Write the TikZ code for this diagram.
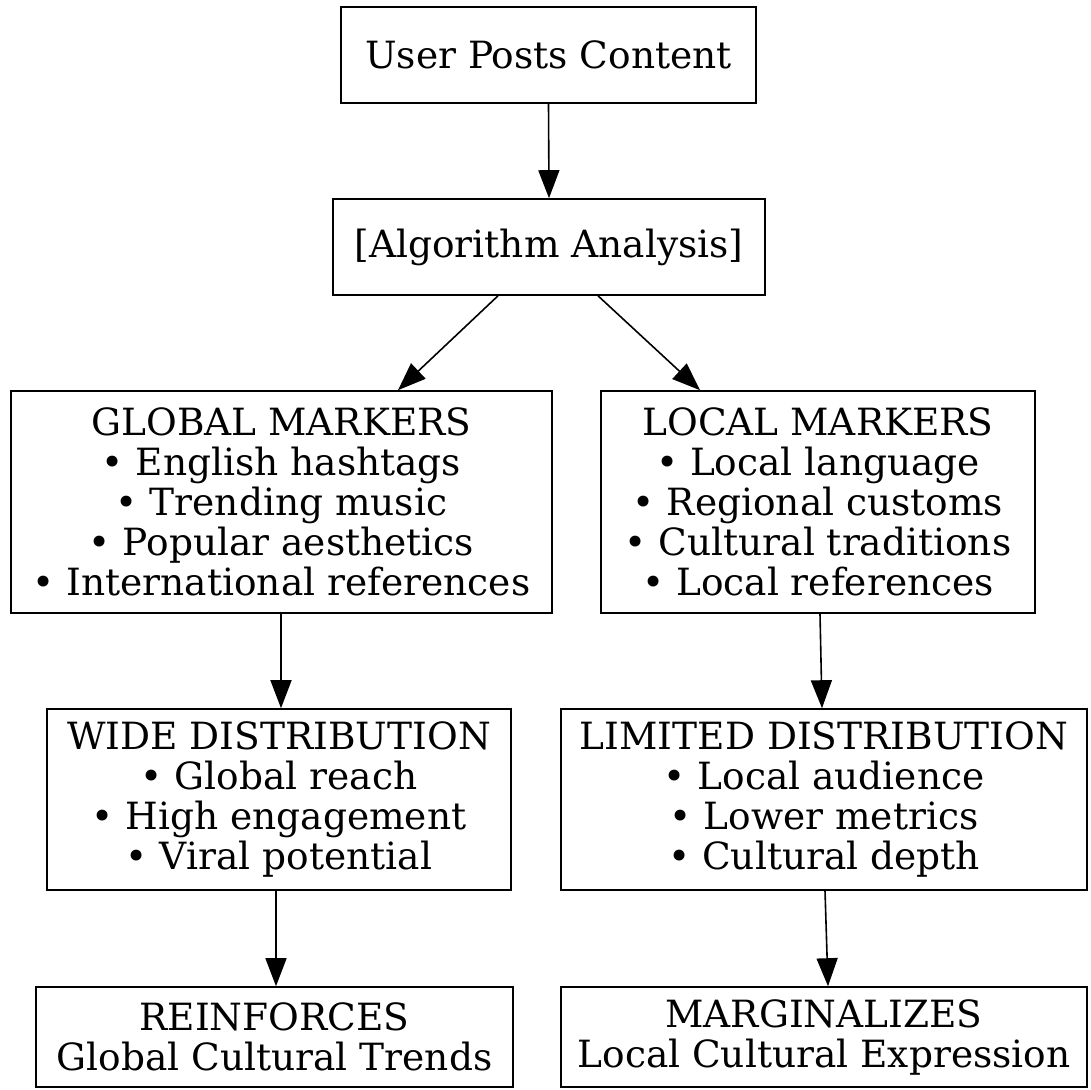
\documentclass[tikz,border=0pt]{standalone}
\usepackage{fontspec}
\setmainfont{DejaVu Serif}
\usetikzlibrary{arrows.meta,calc}
\tikzset{
  box/.style={draw, line width=1.6pt, rectangle, inner sep=0pt, align=center,
    font=\fontsize{37.5}{40}\selectfont},
  arr/.style={line width=1.6pt, -{Triangle[length=28pt,width=21pt]}}
}
\begin{document}
\begin{tikzpicture}[x=1pt,y=-1pt]
\useasboundingbox (0,0) rectangle (1091,1089);
\node[box, minimum width=415, minimum height=96] (A) at (548.5,55) {User Posts Content};
\node[box, minimum width=432, minimum height=96] (B) at (549,247) {[Algorithm Analysis]};
\node[box, minimum width=541, minimum height=222] (C) at (281.5,502) {GLOBAL MARKERS\\• English hashtags\\• Trending music\\• Popular aesthetics\\• International references};
\node[box, minimum width=434, minimum height=222] (D) at (818,502) {LOCAL MARKERS\\• Local language\\• Regional customs\\• Cultural traditions\\• Local references};
\node[box, minimum width=464, minimum height=181] (E) at (279,799.5) {WIDE DISTRIBUTION\\• Global reach\\• High engagement\\• Viral potential};
\node[box, minimum width=526, minimum height=181] (F) at (824,799.5) {LIMITED DISTRIBUTION\\• Local audience\\• Lower metrics\\• Cultural depth};
\node[box, minimum width=477, minimum height=100] (G) at (274.5,1037) {REINFORCES\\Global Cultural Trends};
\node[box, minimum width=526, minimum height=100] (H) at (824,1037) {MARGINALIZES\\Local Cultural Expression};
\draw[arr] (A.south) -- (B.north);
\draw[arr] ($(B.south)+(-51,0)$) -- ($(C.north)+(116.5,0)$);
\draw[arr] ($(B.south)+(49,0)$) -- ($(D.north)+(-118,0)$);
\draw[arr] ($(C.south)+(-0.5,0)$) -- ($(E.north)+(2,0)$);
\draw[arr] ($(D.south)+(2,0)$) -- ($(F.north)+(-2,0)$);
\draw[arr] ($(E.south)+(-3,0)$) -- ($(G.north)+(1.5,0)$);
\draw[arr] ($(F.south)+(1,0)$) -- ($(H.north)+(4,0)$);
\end{tikzpicture}
\end{document}
